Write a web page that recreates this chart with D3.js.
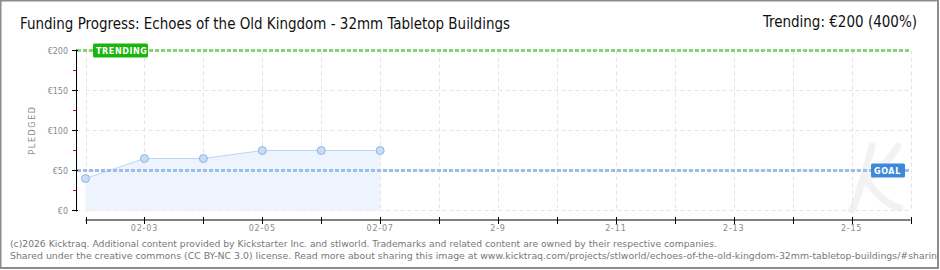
<!DOCTYPE html>
<meta charset="utf-8">
<style>
body { margin: 0; background: #fff; }
svg { display: block; }
.title { fill: #111; font: 15px "DejaVu Sans Condensed", Roboto, sans-serif; }
.small { fill: #8a8a8a; font: 8px "DejaVu Sans", sans-serif; }
.footer { fill: #777; font: 9px "DejaVu Sans", sans-serif; }
.badge { fill: #fff; font: bold 8px "DejaVu Sans", sans-serif; letter-spacing: 0.6px; }
</style>
<body>
<div id="chart"></div>
<script src="https://cdn.jsdelivr.net/npm/d3@7"></script>
<script>

// data
var days = ["2026-02-02", "2026-02-03", "2026-02-04", "2026-02-05", "2026-02-06", "2026-02-07"];
var pledged = [40, 65, 65, 75, 75, 75];
var goal = 50;
var trending = 200;
var yTicks = [0, 50, 100, 150, 200];
var yMinor = [25, 75, 125, 175];
var xTickDays = ["2026-02-02", "2026-02-03", "2026-02-04", "2026-02-05", "2026-02-06", "2026-02-07",
  "2026-02-08", "2026-02-09", "2026-02-10", "2026-02-11", "2026-02-12", "2026-02-13",
  "2026-02-14", "2026-02-15", "2026-02-16"];
var xTickLabels = ["", "02-03", "", "02-05", "", "02-07", "", "2-9", "", "2-11", "", "2-13", "", "2-15", ""];

var width = 940, height = 270;
var parse = d3.timeParse("%Y-%m-%d");
var points = days.map(function(d, i) { return { date: parse(d), value: pledged[i] }; });
var tickDates = xTickDays.map(parse);

var x = d3.scaleTime()
  .domain([tickDates[0], tickDates[tickDates.length - 1]])
  .range([85.5, 910.5]);

var y = d3.scaleLinear()
  .domain([0, 200])
  .range([210.5, 50.5]);

var svg = d3.select("#chart").append("svg")
  .attr("width", width)
  .attr("height", height);

// frame
svg.append("rect")
  .attr("x", 0.5).attr("y", 0.5)
  .attr("width", 937.5).attr("height", 267.5)
  .attr("fill", "#fff")
  .attr("stroke", "#8c8c8c")
  .attr("stroke-width", 2);

// faint "K" watermark, drawn as strokes
svg.append("path")
  .attr("d", "M872,146 C866,170 860,192 852,210 M860,186 C880,170 892,156 898,146 M866,178 C874,192 884,204 900,208")
  .attr("fill", "none")
  .attr("stroke", "#f2f2f2")
  .attr("stroke-width", 7)
  .attr("stroke-linecap", "round");

svg.append("text")
  .attr("class", "title")
  .attr("x", 20).attr("y", 29)
  .attr("textLength", 490)
  .attr("lengthAdjust", "spacingAndGlyphs")
  .text("Funding Progress: Echoes of the Old Kingdom - 32mm Tabletop Buildings");

svg.append("text")
  .attr("class", "title")
  .attr("x", 917).attr("y", 27)
  .attr("text-anchor", "end")
  .text("Trending: €200 (400%)");

// grid
var grid = svg.append("g")
  .attr("stroke", "#e4e4e4")
  .attr("stroke-dasharray", "4,3");

grid.selectAll("line.v")
  .data(tickDates)
  .enter().append("line")
  .attr("x1", function(d) { return Math.round(x(d)) + 0.5; })
  .attr("x2", function(d) { return Math.round(x(d)) + 0.5; })
  .attr("y1", y(200)).attr("y2", y(0));

grid.selectAll("line.h")
  .data(yTicks)
  .enter().append("line")
  .attr("x1", x.range()[0]).attr("x2", x.range()[1])
  .attr("y1", function(d) { return y(d); })
  .attr("y2", function(d) { return y(d); });

// area + line + points
var area = d3.area()
  .x(function(d) { return x(d.date); })
  .y0(y(0))
  .y1(function(d) { return y(d.value); });

var line = d3.line()
  .x(function(d) { return x(d.date); })
  .y(function(d) { return y(d.value); });

svg.append("path")
  .datum(points)
  .attr("d", area)
  .attr("fill", "#edf4fd");

svg.append("path")
  .datum(points)
  .attr("d", line)
  .attr("fill", "none")
  .attr("stroke", "#b9d5f3")
  .attr("stroke-width", 1);

// goal and trending lines
svg.append("line")
  .attr("x1", 77).attr("x2", x.range()[1])
  .attr("y1", y(goal)).attr("y2", y(goal))
  .attr("stroke", "#9dbde6")
  .attr("stroke-width", 3)
  .attr("stroke-dasharray", "4,2");

svg.append("line")
  .attr("x1", 77).attr("x2", x.range()[1])
  .attr("y1", y(trending)).attr("y2", y(trending))
  .attr("stroke", "#86d478")
  .attr("stroke-width", 3)
  .attr("stroke-dasharray", "4,2");

svg.selectAll("circle.pt")
  .data(points)
  .enter().append("circle")
  .attr("cx", function(d) { return x(d.date); })
  .attr("cy", function(d) { return y(d.value); })
  .attr("r", 4)
  .attr("fill", "#c6ddf7")
  .attr("stroke", "#93b3da")
  .attr("stroke-width", 1);

// y axis
svg.append("line")
  .attr("x1", 76.5).attr("x2", 76.5)
  .attr("y1", y(200) - 1).attr("y2", y(0) + 1)
  .attr("stroke", "#000");

svg.selectAll("line.ymaj")
  .data(yTicks)
  .enter().append("line")
  .attr("x1", 72).attr("x2", 78)
  .attr("y1", function(d) { return y(d); })
  .attr("y2", function(d) { return y(d); })
  .attr("stroke", "#000");

svg.selectAll("line.ymin")
  .data(yMinor)
  .enter().append("line")
  .attr("x1", 73).attr("x2", 76)
  .attr("y1", function(d) { return y(d); })
  .attr("y2", function(d) { return y(d); })
  .attr("stroke", "#e00");

svg.selectAll("text.ylab")
  .data(yTicks)
  .enter().append("text")
  .attr("class", "small")
  .attr("x", 68)
  .attr("y", function(d) { return y(d) + 3; })
  .attr("text-anchor", "end")
  .text(function(d) { return "€" + d; });

svg.append("text")
  .attr("class", "small")
  .attr("transform", "translate(35,130) rotate(-90)")
  .attr("text-anchor", "middle")
  .style("letter-spacing", "1.6px")
  .text("PLEDGED");

// x axis
var xAxis = svg.append("g")
  .attr("transform", "translate(0,220)");

xAxis.append("line")
  .attr("x1", x.range()[0]).attr("x2", x.range()[1])
  .attr("stroke", "#000");

xAxis.selectAll("line.tick")
  .data(tickDates)
  .enter().append("line")
  .attr("x1", function(d) { return Math.round(x(d)) + 0.5; })
  .attr("x2", function(d) { return Math.round(x(d)) + 0.5; })
  .attr("y1", -3).attr("y2", 4)
  .attr("stroke", "#000");

xAxis.selectAll("text")
  .data(tickDates)
  .enter().append("text")
  .attr("class", "small")
  .attr("x", function(d) { return x(d); })
  .attr("y", 11)
  .attr("text-anchor", "middle")
  .style("letter-spacing", "0.8px")
  .text(function(d, i) { return xTickLabels[i]; });

// badges
svg.append("rect")
  .attr("x", 93).attr("y", y(trending) - 7)
  .attr("width", 55).attr("height", 14)
  .attr("rx", 1.5)
  .attr("fill", "#1bb60d");
svg.append("text")
  .attr("class", "badge")
  .attr("x", 96).attr("y", y(trending) + 3)
  .text("TRENDING");

svg.append("rect")
  .attr("x", 871).attr("y", y(goal) - 7)
  .attr("width", 34).attr("height", 14)
  .attr("rx", 1.5)
  .attr("fill", "#3c89d9");
svg.append("text")
  .attr("class", "badge")
  .attr("x", 874).attr("y", y(goal) + 3)
  .text("GOAL");

// footer
svg.append("text")
  .attr("class", "footer")
  .attr("x", 10).attr("y", 247)
  .attr("textLength", 707)
  .attr("lengthAdjust", "spacingAndGlyphs")
  .text("(c)2026 Kicktraq. Additional content provided by Kickstarter Inc. and stlworld. Trademarks and related content are owned by their respective companies.");

svg.append("text")
  .attr("class", "footer")
  .attr("x", 10).attr("y", 259)
  .attr("textLength", 933)
  .attr("lengthAdjust", "spacingAndGlyphs")
  .text("Shared under the creative commons (CC BY-NC 3.0) license. Read more about sharing this image at www.kicktraq.com/projects/stlworld/echoes-of-the-old-kingdom-32mm-tabletop-buildings/#sharing");

// redraw right frame edge over clipped footer
svg.append("rect")
  .attr("x", 937).attr("y", 0)
  .attr("width", 3).attr("height", 270)
  .attr("fill", "#fff");
svg.append("line")
  .attr("x1", 938).attr("x2", 938)
  .attr("y1", 0).attr("y2", 269)
  .attr("stroke", "#8c8c8c")
  .attr("stroke-width", 2);

</script>
</body>
